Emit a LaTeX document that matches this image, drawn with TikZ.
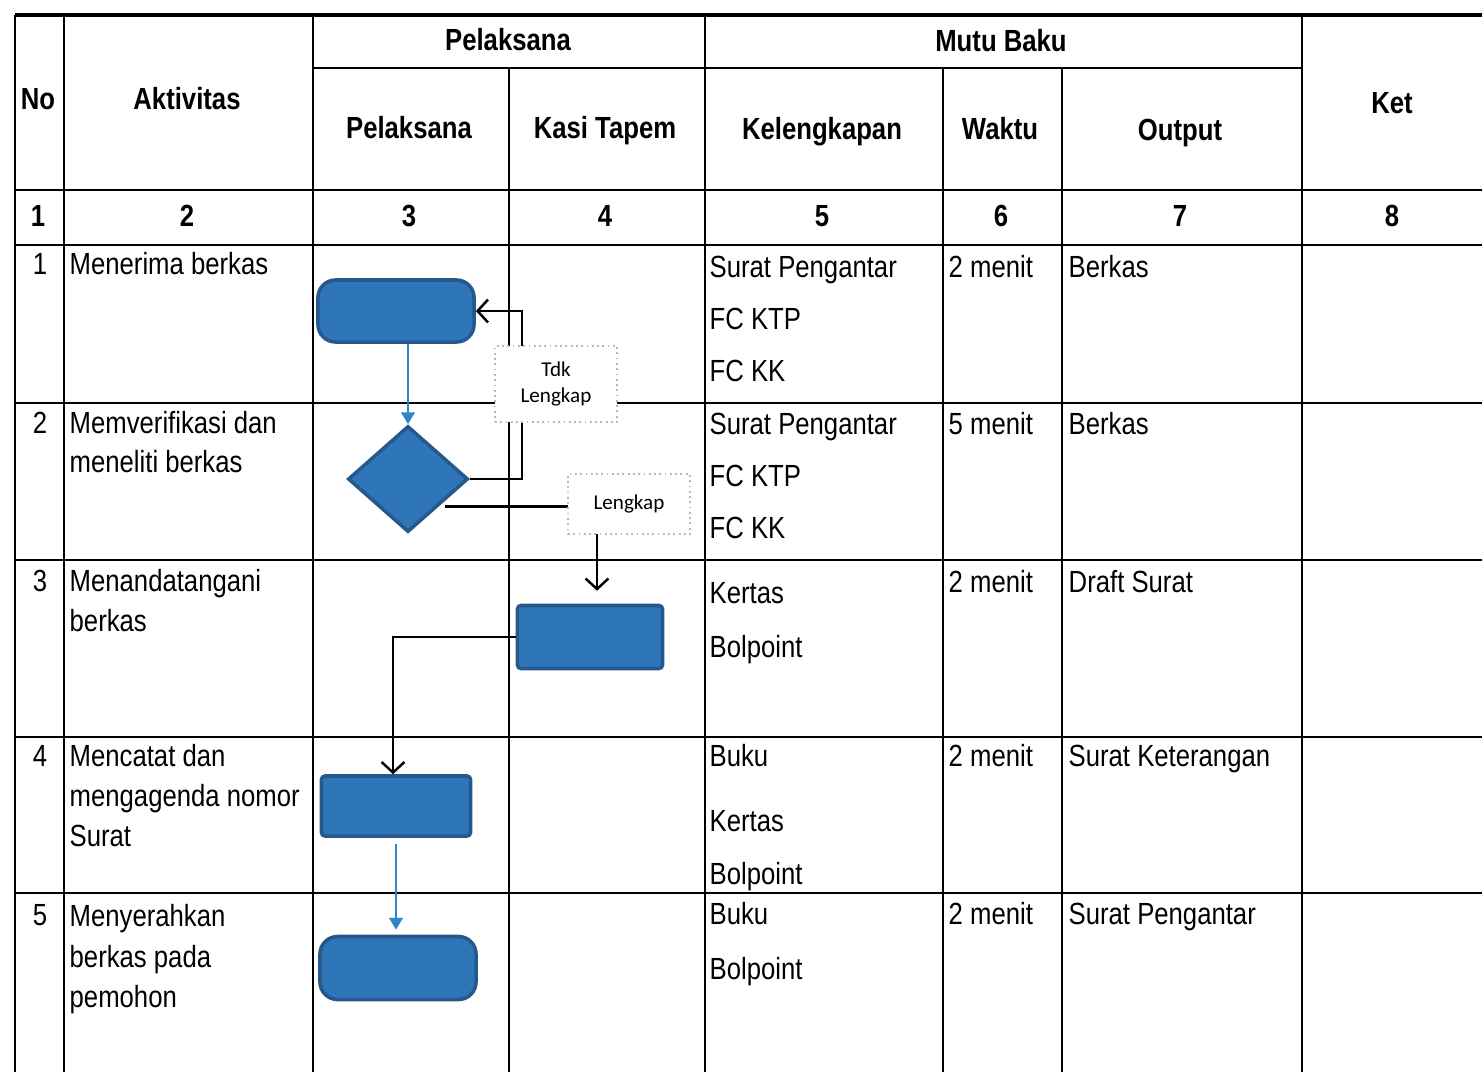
\documentclass[tikz,border=0pt]{standalone}
\usepackage{fontspec}
\setmainfont[FakeStretch=0.84]{Liberation Sans}
\newfontfamily\labelfont{Carlito}
\usetikzlibrary{arrows.meta,shapes.geometric,calc}

\definecolor{boxblue}{RGB}{47,118,184}
\definecolor{boxedge}{RGB}{37,88,140}
\definecolor{flowblue}{RGB}{46,134,200}

\begin{document}
\begin{tikzpicture}[x=0.01cm, y=-0.01cm, >=Stealth,
    cell/.style={anchor=mid west, inner sep=0pt, font=\fontsize{8.7}{10}\selectfont},
    head/.style={anchor=mid, inner sep=0pt, font=\fontsize{8.7}{10}\selectfont\bfseries},
    proses/.style={draw=boxedge, fill=boxblue, line width=1pt, inner sep=0pt},
    keputusan/.style={proses, diamond, aspect=1.13, minimum width=1.2cm, minimum height=1.06cm},
    catatan/.style={draw=gray!55, densely dotted, fill=white, line width=0.5pt, inner sep=0pt,
        align=center, font=\labelfont\fontsize{6}{7.3}\selectfont, minimum width=1.22cm},
    panah/.style={line width=0.7pt, -{Straight Barb[length=3pt,width=6.5pt]}},
    alur/.style={draw=flowblue, line width=0.8pt, -{Triangle[length=3.4pt,width=3.8pt]}}]
    \useasboundingbox (0,0) rectangle (1482,1072);
    \fill[white] (0,0) rectangle (1482,1072);

    % garis tabel
    \draw[line width=1.3pt] (15,15) -- (1482,15);
    \foreach \x in {15, 64, 313, 705, 1302} {
        \draw[line width=0.8pt] (\x,15) -- (\x,1072);
    }
    \foreach \x in {509, 943, 1062} {
        \draw[line width=0.8pt] (\x,68) -- (\x,1072);
    }
    \draw[line width=0.8pt] (313,68) -- (1302,68);
    \foreach \y in {190, 245, 403, 560, 737, 893} {
        \draw[line width=0.8pt] (15,\y) -- (1482,\y);
    }

    % judul kolom
    \node[head] (hno) at (38,100) {No};
    \node[head] (hakt) at (187,100) {Aktivitas};
    \node[head] (hpel) at (508,41) {Pelaksana};
    \node[head] (hmutu) at (1001,42) {Mutu Baku};
    \node[head] (hpel2) at (409,129) {Pelaksana};
    \node[head] (hkasi) at (605,129) {Kasi Tapem};
    \node[head] (hkel) at (822,130) {Kelengkapan};
    \node[head] (hwak) at (1000,130) {Waktu};
    \node[head] (hout) at (1180,131) {Output};
    \node[head] (hket) at (1392,104) {Ket};
    \foreach \x [count=\i] in {38, 187, 409, 605, 822, 1001, 1180, 1392} {
        \node[head] (nomor\i) at (\x,217) {\i};
    }

    % isi tabel
    \foreach \y [count=\i] in {265, 424, 582, 757, 916} {
        \node[cell, anchor=mid] (baris\i) at (40,\y) {\i};
    }
    \foreach \y/\t [count=\i] in {265/Menerima berkas, 424/Memverifikasi dan, 463/meneliti berkas,
        582/Menandatangani, 622/berkas, 757/Mencatat dan, 797/mengagenda nomor, 837/Surat,
        917/Menyerahkan, 958/berkas pada, 998/pemohon} {
        \node[cell] (akt\i) at (69,\y) {\t};
    }
    \foreach \y/\t [count=\i] in {268/Surat Pengantar, 320/FC KTP, 372/FC KK,
        425/Surat Pengantar, 477/FC KTP, 529/FC KK, 594/Kertas, 648/Bolpoint,
        757/Buku, 822/Kertas, 875/Bolpoint, 915/Buku, 970/Bolpoint} {
        \node[cell] (kel\i) at (709,\y) {\t};
    }
    \foreach \y/\t [count=\i] in {268/2 menit, 425/5 menit, 583/2 menit, 757/2 menit, 915/2 menit} {
        \node[cell] (wak\i) at (948,\y) {\t};
    }
    \foreach \y/\t [count=\i] in {268/Berkas, 425/Berkas, 583/Draft Surat,
        757/Surat Keterangan, 915/Surat Pengantar} {
        \node[cell] (out\i) at (1068,\y) {\t};
    }

    % simbol bagan alir
    \node[proses, rounded corners=5pt, minimum width=1.56cm, minimum height=0.62cm] (terima) at (396,311) {};
    \node[keputusan] (periksa) at (408,479) {};
    \node[proses, rounded corners=1pt, minimum width=1.45cm, minimum height=0.63cm] (tanda) at (590,637) {};
    \node[proses, rounded corners=1pt, minimum width=1.49cm, minimum height=0.60cm] (catat) at (396,806) {};
    \node[proses, rounded corners=5pt, minimum width=1.56cm, minimum height=0.63cm] (serah) at (398,968) {};

    % garis alur
    \draw[alur] (periksa.north |- terima.south) -- (periksa.north);
    \draw[panah] (periksa.east) -- ++(52,0) |- (terima.east);
    \draw[panah, shorten >=0.13cm] ([xshift=0.06cm]periksa.south east) -| ([xshift=0.07cm]tanda.north);
    \draw[panah] (tanda.west) -| ([xshift=-0.03cm]catat.north);
    \draw[alur, shorten <=0.06cm, shorten >=0.05cm] (catat.south) -- (catat.south |- serah.north);

    % keterangan cabang
    \node[catatan, minimum height=0.76cm] (tdk) at (556,384) {Tdk\\Lengkap};
    \node[catatan, minimum height=0.60cm] (lkp) at (629,504) {Lengkap};
\end{tikzpicture}
\end{document}
